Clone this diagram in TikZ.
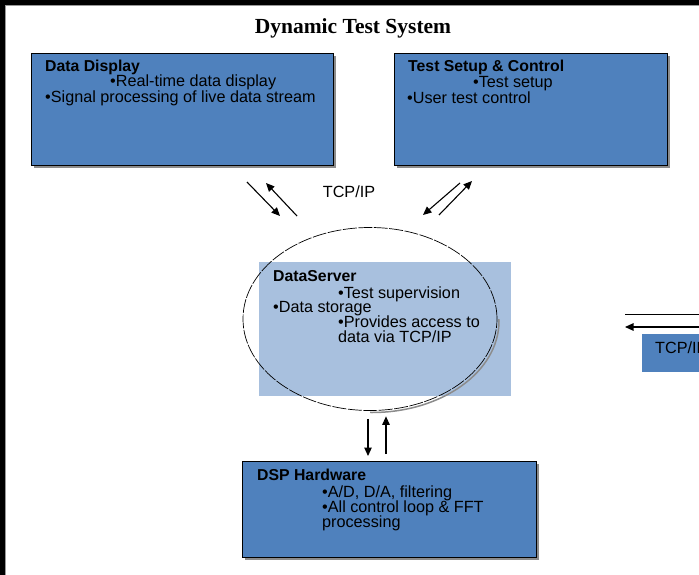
\documentclass[tikz,border=0pt]{standalone}
\usepackage{fontspec}
\setmainfont{Liberation Sans}
\newfontfamily\titlefont{Liberation Serif}
\usetikzlibrary{arrows.meta,shapes.geometric,shadows}
\definecolor{boxblue}{RGB}{79,129,189}
\definecolor{paleblue}{RGB}{168,192,222}
\tikzset{box/.style = {rectangle, draw=black, line width=0.8pt, fill=boxblue, inner sep=0pt, anchor=north west,
                       drop shadow={shadow xshift=3pt, shadow yshift=-3pt, fill=black!45, opacity=1}}}
\tikzset{txt/.style = {anchor=base west, inner sep=0pt, font=\fontsize{16.2}{17}\selectfont}}
\tikzset{head/.style = {anchor=base west, inner sep=0pt, font=\fontsize{15.8}{17}\selectfont\bfseries}}
\tikzset{arr/.style = {line width=1.1pt, -{Triangle[length=8.5pt,width=7.5pt]}}}

\begin{document}
\begin{tikzpicture}[x=1pt, y={(0pt,-1pt)}]
            \useasboundingbox (0,0) rectangle (699,575);
            \clip (0,0) rectangle (699,575);
            \fill[black] (0,0) rectangle (699,5);
            \fill[black] (0,0) rectangle (5,575);
            \draw[black!40, line width=1pt] (5.5,575) -- (5.5,5.5) -- (699,5.5);

            \node [anchor=base, inner sep=0pt, font=\titlefont\fontsize{21.5}{23}\selectfont\bfseries] (title) at (353,34) {Dynamic Test System};

            % top boxes
            \node [box, minimum width=302pt, minimum height=112pt] (disp) at (31,53) {};
            \node [head] (disph) at (45,72) {Data Display};
            \node [txt] (disp1) at (110,87) {•Real-time data display};
            \node [txt] (disp2) at (45,103) {•Signal processing of live data stream};

            \node [box, minimum width=273pt, minimum height=112pt] (setup) at (394,53) {};
            \node [head] (setuph) at (408,72) {Test Setup \& Control};
            \node [txt] (setup1) at (473,88) {•Test setup};
            \node [txt] (setup2) at (407,104) {•User test control};

            % data server
            \node [fill=paleblue, minimum width=252pt, minimum height=134pt, anchor=north west, inner sep=0pt] (pane) at (259,262) {};
            \begin{scope}
                \clip (370,319) rectangle (520,420);
                \node [ellipse, draw=black!45, line width=1.5pt, minimum width=254pt, minimum height=183pt, inner sep=0pt] (srvshade) at (372,321) {};
            \end{scope}
            \node [ellipse, draw=black, line width=0.7pt, dash pattern=on 14pt off 1.5pt, minimum width=254pt, minimum height=183pt, inner sep=0pt] (srv) at (370,319) {};
            \node [head] (srvh) at (273,281) {DataServer};
            \node [txt] (srv1) at (338,298) {•Test supervision};
            \node [txt] (srv2) at (273,312) {•Data storage};
            \node [txt] (srv3) at (338,327) {•Provides access to};
            \node [txt] (srv4) at (338,342) {data via TCP/IP};

            \node [txt, anchor=base] (proto) at (349,197) {TCP/IP};

            \coordinate (d1) at (247,182);
            \coordinate (d2) at (280,216);
            \coordinate (d3) at (266,183);
            \coordinate (d4) at (297,216);
            \coordinate (s1) at (460,183);
            \coordinate (s2) at (423,215);
            \coordinate (s3) at (439,215);
            \coordinate (s4) at (472,181);
            \draw [arr] (d1) -- (d2);
            \draw [arr] (d4) -- (d3);
            \draw [arr] (s1) -- (s2);
            \draw [arr] (s3) -- (s4);

            % hardware
            \node [box, minimum width=294pt, minimum height=96pt] (dsp) at (242,461) {};
            \node [head] (dsph) at (257,480) {DSP Hardware};
            \node [txt] (dsp1) at (322,497) {•A/D, D/A, filtering};
            \node [txt] (dsp2) at (322,512) {•All control loop \& FFT};
            \node [txt] (dsp3) at (322,527) {processing};

            \draw [arr] ([xshift=-2pt,yshift=-8pt]srv.south) -- ([xshift=-2pt,yshift=5pt]srv.south |- dsp.north);
            \draw [arr] ([xshift=16pt,yshift=7pt]srv.south |- dsp.north) -- ([xshift=16pt,yshift=-5.5pt]srv.south);

            % link on the right
            \node [fill=boxblue, minimum width=80pt, minimum height=38pt, anchor=north west, inner sep=0pt] (peer) at (642,334) {};
            \node [txt] (peerh) at (655,353) {TCP/IP};
            \coordinate (p1) at (710,314);
            \coordinate (p2) at (625,314);
            \coordinate (p3) at (710,327);
            \coordinate (p4) at (625,327);
            \draw [line width=1pt] (p2) -- (p1);
            \draw [arr] (p3) -- (p4);
        \end{tikzpicture}
\end{document}
